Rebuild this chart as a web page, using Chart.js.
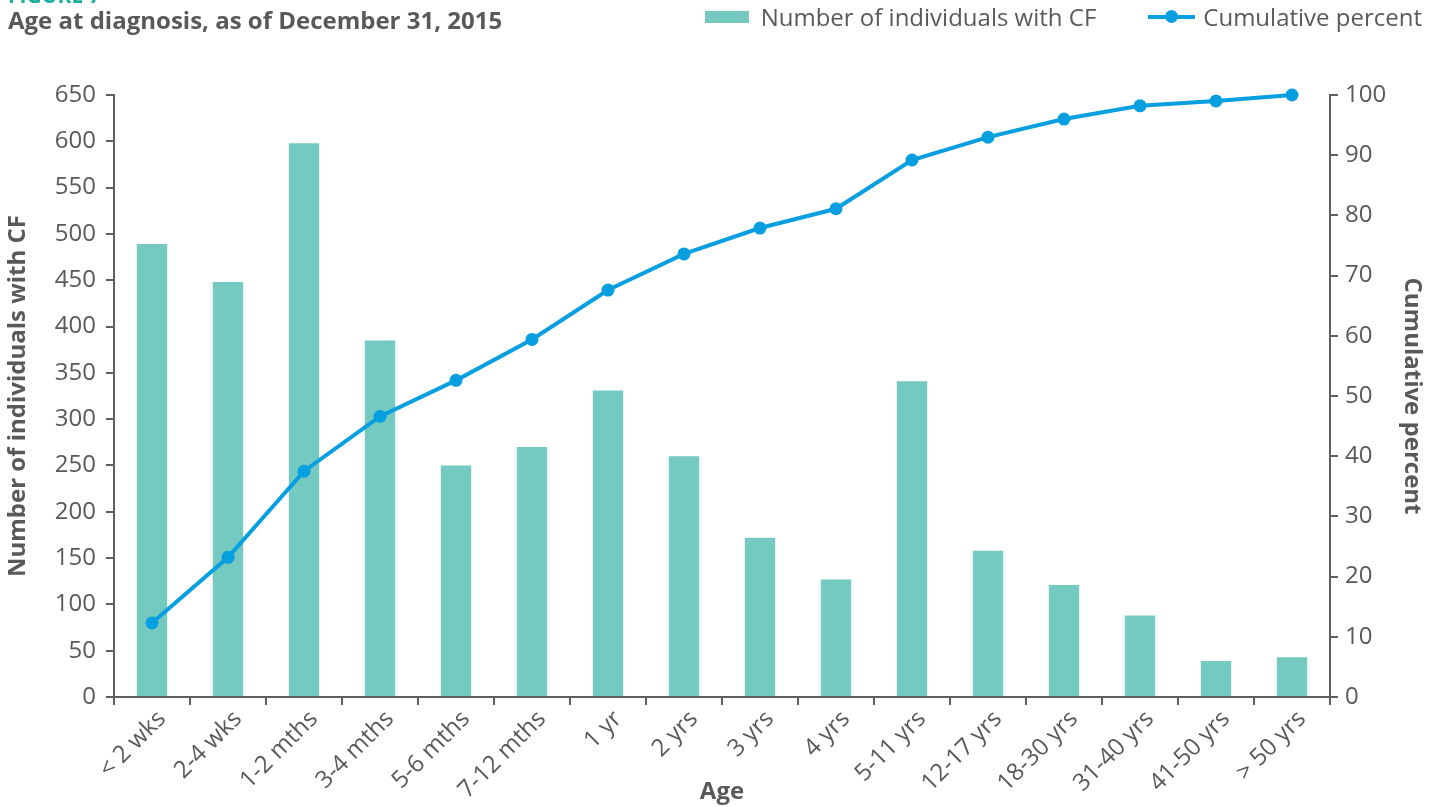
<!DOCTYPE html>
<html>
<head>
<meta charset="utf-8">
<script src="https://cdn.jsdelivr.net/npm/chart.js@4.4.1/dist/chart.umd.min.js"></script>
<style>
  html, body { margin: 0; padding: 0; background: #ffffff; }
  #wrap { position: relative; width: 1440px; height: 807px; overflow: hidden; font-family: "Open Sans", sans-serif; }
  #fig { position: absolute; left: 8px; top: -15px; font-size: 21px; line-height: 20px; font-weight: 700; color: #1aae9f; white-space: nowrap; }
  #title { position: absolute; left: 8px; top: 4px; font-size: 24px; line-height: 32px; font-weight: 700; color: #595959; white-space: nowrap; }
  #legend { position: absolute; right: 18px; top: 1px; display: flex; align-items: center; font-size: 24px; line-height: 32px; font-weight: 400; color: #595959; white-space: nowrap; }
  .item { display: flex; align-items: center; }
  .item + .item { margin-left: 52px; }
  .swatch-bar { width: 44px; height: 12px; margin-right: 12px; }
  .swatch-line { position: relative; width: 47px; height: 12px; margin-right: 8px; }
  .swatch-line .ln { position: absolute; left: 0; right: 0; top: 4px; height: 4px; }
  .swatch-line .dot { position: absolute; left: 17px; top: -1px; width: 13px; height: 13px; border-radius: 50%; }
  canvas { position: absolute; left: 0; top: 0; }
</style>
</head>
<body>
<div id="wrap">
  <canvas id="chart" width="1440" height="807"></canvas>
  <div id="fig">FIGURE 7</div>
  <div id="title">Age at diagnosis, as of December 31, 2015</div>
  <div id="legend"></div>
</div>
<script>
// ---- Data ----
const categories = ['< 2 wks', '2-4 wks', '1-2 mths', '3-4 mths', '5-6 mths', '7-12 mths', '1 yr', '2 yrs', '3 yrs', '4 yrs', '5-11 yrs', '12-17 yrs', '18-30 yrs', '31-40 yrs', '41-50 yrs', '> 50 yrs'];
const individualsWithCF = [489, 448, 598, 385, 250, 270, 331, 260, 172, 127, 341, 158, 121, 88, 39, 43];
const cumulativePercent = [12.3, 23.2, 37.5, 46.6, 52.6, 59.4, 67.6, 73.6, 77.9, 81.1, 89.2, 93.0, 96.0, 98.2, 99.0, 100];
const leftAxisRange = [0, 650, 50];
const rightAxisRange = [0, 100, 10];
const seriesNames = ['Number of individuals with CF', 'Cumulative percent'];
const axisTitles = ['Age', 'Number of individuals with CF', 'Cumulative percent'];

const BAR_COLOR = '#74c9c0';
const LINE_COLOR = '#089fe0';
const AXIS_COLOR = '#5f5f5f';
const TEXT_COLOR = '#595959';
const FONT = '"Open Sans", sans-serif';

const tickFont = { family: FONT, size: 24, weight: 400 };
const titleFont = { family: FONT, size: 24, weight: 'bold' };

const chart = new Chart(document.getElementById('chart'), {
  data: {
    labels: categories,
    datasets: [
      {
        type: 'line',
        label: seriesNames[1],
        data: cumulativePercent,
        yAxisID: 'y1',
        borderColor: LINE_COLOR,
        backgroundColor: LINE_COLOR,
        borderWidth: 4,
        pointRadius: 6.5,
        pointBackgroundColor: LINE_COLOR,
        pointBorderColor: LINE_COLOR,
        pointBorderWidth: 0,
        tension: 0,
        clip: false,
        order: 0
      },
      {
        type: 'bar',
        label: seriesNames[0],
        data: individualsWithCF,
        yAxisID: 'y',
        backgroundColor: BAR_COLOR,
        borderWidth: 0,
        barPercentage: 0.4,
        categoryPercentage: 1.0,
        order: 1
      }
    ]
  },
  options: {
    responsive: false,
    animation: false,
    devicePixelRatio: 1,
    layout: { padding: { top: 95, left: 0, right: 0, bottom: 0 } },
    plugins: {
      legend: { display: false },
      title: { display: false },
      tooltip: { enabled: false }
    },
    scales: {
      x: {
        type: 'category',
        offset: true,
        grid: { display: true, offset: true, drawOnChartArea: false, drawTicks: true, tickLength: 8, color: AXIS_COLOR, lineWidth: 2 },
        border: { display: true, color: AXIS_COLOR, width: 2 },
        ticks: { color: TEXT_COLOR, font: tickFont, maxRotation: 45, minRotation: 45, autoSkip: false, padding: 0, labelOffset: 10 },
        title: { display: true, text: axisTitles[0], color: TEXT_COLOR, font: titleFont, padding: { top: 0, bottom: 0 } },
        afterFit: (s) => { s.height = 110; }
      },
      y: {
        type: 'linear',
        position: 'left',
        min: leftAxisRange[0],
        max: leftAxisRange[1],
        grid: { display: true, drawOnChartArea: false, drawTicks: true, tickLength: 8, color: AXIS_COLOR, lineWidth: 2 },
        border: { display: true, color: AXIS_COLOR, width: 2 },
        ticks: { stepSize: leftAxisRange[2], color: TEXT_COLOR, font: tickFont, padding: 10 },
        title: { display: true, text: axisTitles[1], color: TEXT_COLOR, font: titleFont, padding: { top: 4, bottom: 0 } },
        afterFit: (s) => { s.width = 114; }
      },
      y1: {
        type: 'linear',
        position: 'right',
        min: rightAxisRange[0],
        max: rightAxisRange[1],
        grid: { display: true, drawOnChartArea: false, drawTicks: true, tickLength: 8, color: AXIS_COLOR, lineWidth: 2 },
        border: { display: true, color: AXIS_COLOR, width: 2 },
        ticks: { stepSize: rightAxisRange[2], color: TEXT_COLOR, font: tickFont, padding: 7 },
        title: { display: true, text: axisTitles[2], color: TEXT_COLOR, font: titleFont, padding: { top: 14, bottom: 0 } },
        afterFit: (s) => { s.width = 110; }
      }
    }
  }
});

// HTML legend built from the chart's datasets (bar first, then line)
const legendEl = document.getElementById('legend');
['bar', 'line'].forEach((kind) => {
  const ds = chart.data.datasets.find((d) => d.type === kind);
  const item = document.createElement('div');
  item.className = 'item';
  const sw = document.createElement('div');
  if (kind === 'bar') {
    sw.className = 'swatch-bar';
    sw.style.background = ds.backgroundColor;
  } else {
    sw.className = 'swatch-line';
    const ln = document.createElement('div'); ln.className = 'ln'; ln.style.background = ds.borderColor;
    const dot = document.createElement('div'); dot.className = 'dot'; dot.style.background = ds.borderColor;
    sw.appendChild(ln); sw.appendChild(dot);
  }
  const txt = document.createElement('span');
  txt.textContent = ds.label;
  item.appendChild(sw); item.appendChild(txt);
  legendEl.appendChild(item);
});
</script>
</body>
</html>
